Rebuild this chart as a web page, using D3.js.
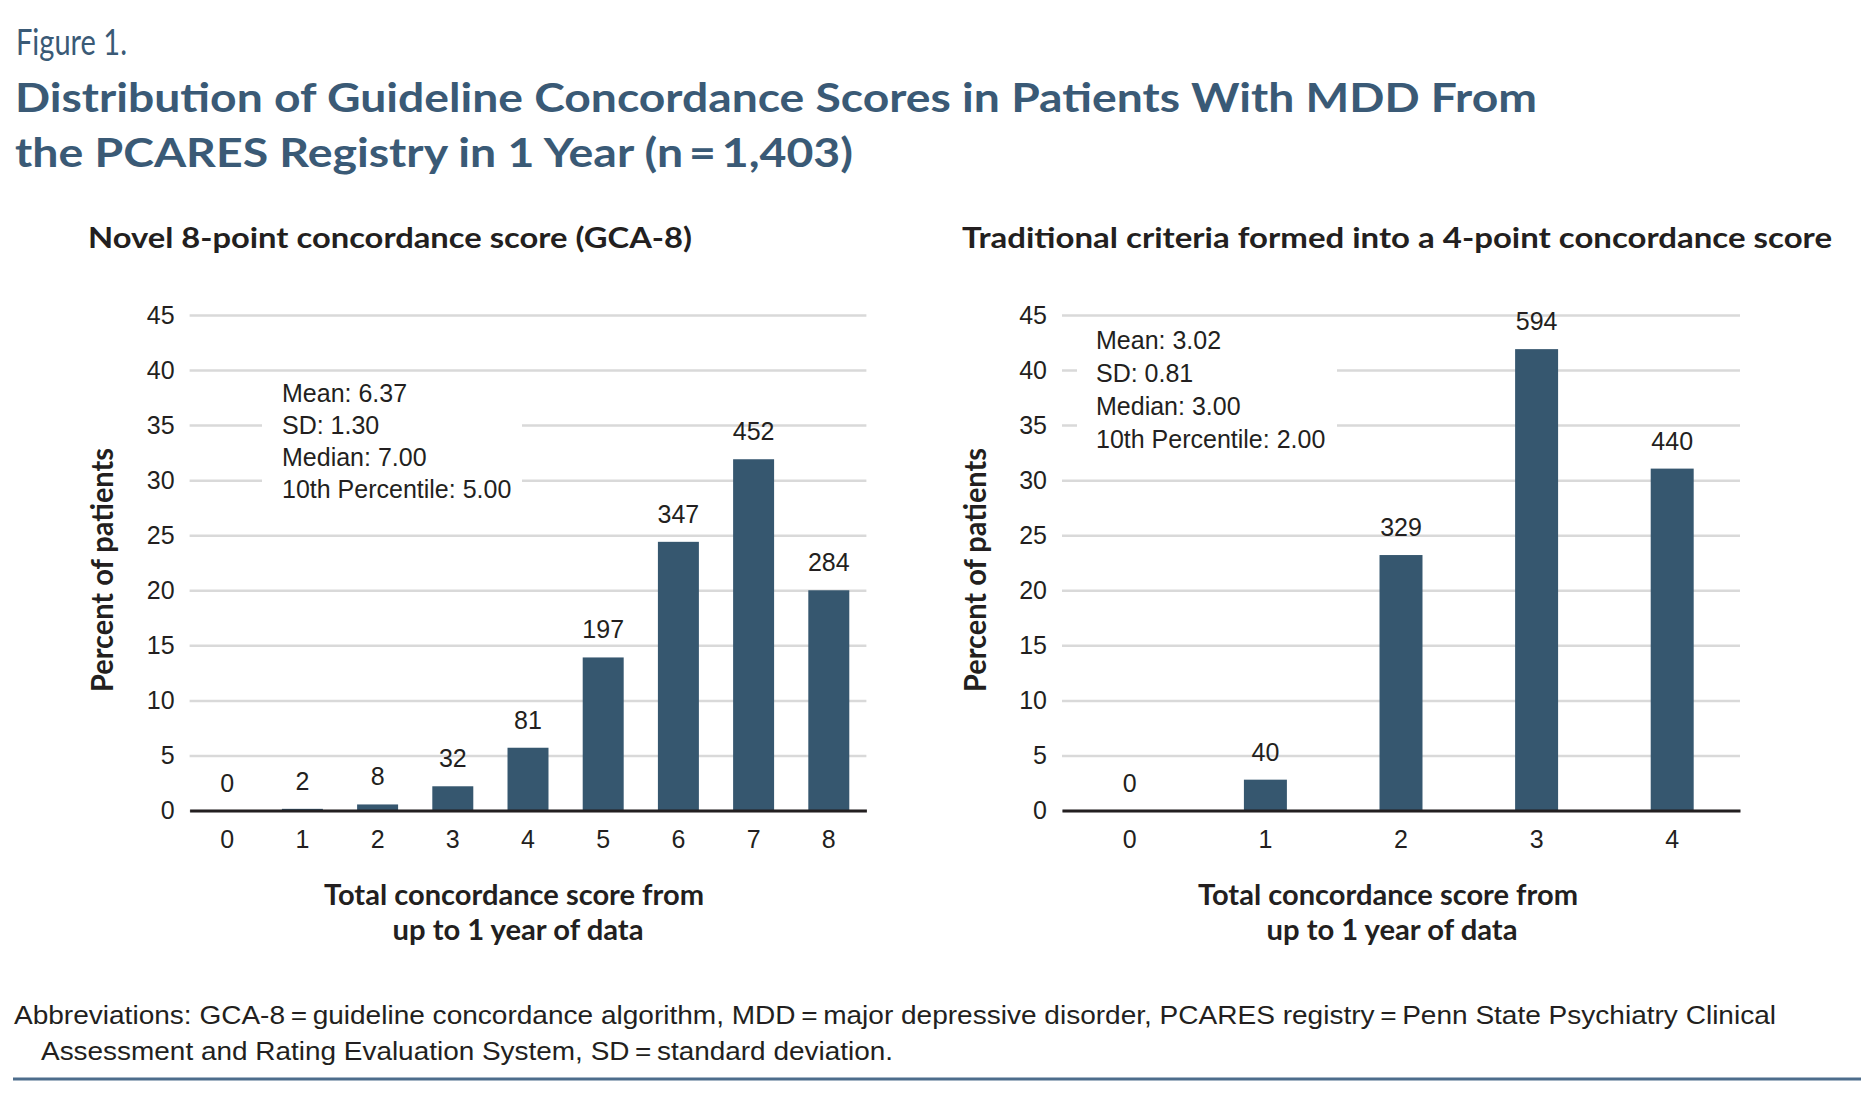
<!DOCTYPE html>
<html>
<head>
<meta charset="utf-8">
<script src="https://cdn.jsdelivr.net/npm/d3@7"></script>
<style>
  body { margin: 0; background: #fff; }
  text { fill: #231f20; font-family: "Liberation Sans", Arial, sans-serif; }
  .gridline { stroke: #d9d9d9; stroke-width: 2.5; }
  .heading { fill: #3a5a76; font-family: Lato, "Liberation Sans", sans-serif; }
  .bold { font-family: Lato, "Liberation Sans", sans-serif; font-weight: 700; }
</style>
</head>
<body>
<svg id="chart"></svg>
<script>
// data
var yTicks = [0, 5, 10, 15, 20, 25, 30, 35, 40, 45];

var gcaScores = ["0", "1", "2", "3", "4", "5", "6", "7", "8"];
var gcaPercent = [0, 0.15, 0.55, 2.2, 5.7, 13.9, 24.4, 31.9, 20.0];
var gcaCounts = [0, 2, 8, 32, 81, 197, 347, 452, 284];
var gcaStats = ["Mean: 6.37", "SD: 1.30", "Median: 7.00", "10th Percentile: 5.00"];

var tradScores = ["0", "1", "2", "3", "4"];
var tradPercent = [0, 2.8, 23.2, 41.9, 31.05];
var tradCounts = [0, 40, 329, 594, 440];
var tradStats = ["Mean: 3.02", "SD: 0.81", "Median: 3.00", "10th Percentile: 2.00"];

var canvas_width = 1871;
var canvas_height = 1103;
var barColor = "#36576f";

var svg = d3
  .select("#chart")
  .attr("width", canvas_width)
  .attr("height", canvas_height);

svg.append("rect")
  .attr("width", canvas_width)
  .attr("height", canvas_height)
  .attr("fill", "#fff");

//////////// HEADINGS ////////////
svg.append("text")
  .attr("class", "heading")
  .attr("x", 16)
  .attr("y", 55)
  .attr("textLength", 111)
  .attr("lengthAdjust", "spacingAndGlyphs")
  .style("font-size", "37px")
  .text("Figure 1.");

svg.append("text")
  .attr("class", "heading")
  .attr("x", 15)
  .attr("y", 112)
  .attr("textLength", 1522)
  .attr("lengthAdjust", "spacingAndGlyphs")
  .style("font-size", "40px")
  .style("font-weight", 700)
  .text("Distribution of Guideline Concordance Scores in Patients With MDD From");

svg.append("text")
  .attr("class", "heading")
  .attr("x", 15)
  .attr("y", 167)
  .attr("textLength", 838)
  .attr("lengthAdjust", "spacingAndGlyphs")
  .style("font-size", "40px")
  .style("font-weight", 700)
  .text("the PCARES Registry in 1 Year (n\u2009=\u20091,403)");

//////////// PANELS ////////////
function drawPanel(cfg) {
  var xScale = d3
    .scaleBand()
    .domain(cfg.categories)
    .range([cfg.x0, cfg.x1])
    .paddingInner(cfg.pad)
    .paddingOuter(cfg.pad / 2);

  var yScale = d3.scaleLinear().domain([0, 45]).range([810.5, 315]);

  var g = svg.append("g");

  // subtitle
  g.append("text")
    .attr("class", "bold")
    .attr("x", cfg.subX)
    .attr("y", 248)
    .attr("textLength", cfg.subLen)
    .attr("lengthAdjust", "spacingAndGlyphs")
    .style("font-size", "29px")
    .text(cfg.subtitle);

  // y axis with gridlines
  var yAxis = d3
    .axisLeft(yScale)
    .tickValues(yTicks)
    .tickSize(-(cfg.x1 - cfg.x0))
    .tickPadding(15);

  var yg = g.append("g")
    .attr("transform", "translate(" + cfg.x0 + ",0)")
    .call(yAxis);
  yg.select(".domain").remove();
  yg.selectAll(".tick line").attr("class", "gridline");
  yg.selectAll(".tick text")
    .style("font-size", "25px")
    .style("font-family", "'Liberation Sans', Arial, sans-serif")
    .attr("fill", "#231f20");

  // white box behind the summary stats
  var statsBottom = cfg.statsY + (cfg.stats.length - 1) * cfg.statsStep;
  g.append("rect")
    .attr("x", cfg.maskX0)
    .attr("y", cfg.statsY - 28)
    .attr("width", cfg.maskX1 - cfg.maskX0)
    .attr("height", statsBottom + 14 - (cfg.statsY - 28))
    .attr("fill", "#fff");

  g.selectAll(".stat")
    .data(cfg.stats)
    .enter()
    .append("text")
    .attr("x", cfg.statsX)
    .attr("y", function (d, i) {
      return cfg.statsY + i * cfg.statsStep;
    })
    .style("font-size", "25px")
    .text(function (d) {
      return d;
    });

  // bars
  g.selectAll(".bar")
    .data(cfg.values)
    .enter()
    .append("rect")
    .attr("x", function (d, i) {
      return xScale(cfg.categories[i]);
    })
    .attr("y", function (d) {
      return yScale(d);
    })
    .attr("width", xScale.bandwidth())
    .attr("height", function (d) {
      return yScale(0) - yScale(d);
    })
    .attr("fill", barColor);

  // count labels
  g.selectAll(".count")
    .data(cfg.counts)
    .enter()
    .append("text")
    .attr("x", function (d, i) {
      return xScale(cfg.categories[i]) + xScale.bandwidth() / 2;
    })
    .attr("y", function (d, i) {
      return yScale(cfg.values[i]) - 19;
    })
    .attr("text-anchor", "middle")
    .style("font-size", "25px")
    .text(function (d) {
      return d;
    });

  // x axis
  var xAxis = d3.axisBottom(xScale).tickSize(0).tickPadding(20);
  var xg = g.append("g")
    .attr("transform", "translate(0," + yScale(0) + ")")
    .call(xAxis);
  xg.select(".domain")
    .attr("stroke", "#231f20")
    .attr("stroke-width", 3);
  xg.selectAll(".tick text")
    .style("font-size", "25px")
    .style("font-family", "'Liberation Sans', Arial, sans-serif")
    .attr("fill", "#231f20");

  // x axis title
  g.append("text")
    .attr("class", "bold")
    .attr("x", cfg.xTitleX)
    .attr("y", 905)
    .attr("text-anchor", "middle")
    .attr("textLength", 380)
    .attr("lengthAdjust", "spacingAndGlyphs")
    .style("font-size", "28px")
    .text("Total concordance score from");
  g.append("text")
    .attr("class", "bold")
    .attr("x", cfg.xTitleX + 4)
    .attr("y", 940)
    .attr("text-anchor", "middle")
    .attr("textLength", 251)
    .attr("lengthAdjust", "spacingAndGlyphs")
    .style("font-size", "28px")
    .text("up to 1 year of data");

  // y axis title
  g.append("text")
    .attr("class", "bold")
    .attr("transform", "translate(" + cfg.yTitleX + ",570) rotate(-90)")
    .attr("text-anchor", "middle")
    .attr("textLength", 244)
    .attr("lengthAdjust", "spacingAndGlyphs")
    .style("font-size", "30px")
    .text("Percent of patients");
}

drawPanel({
  categories: gcaScores,
  values: gcaPercent,
  counts: gcaCounts,
  stats: gcaStats,
  x0: 189.6,
  x1: 866.4,
  pad: 0.455,
  subtitle: "Novel 8-point concordance score (GCA-8)",
  subX: 88,
  subLen: 604,
  statsX: 282,
  statsY: 402,
  statsStep: 32,
  maskX0: 262,
  maskX1: 522,
  xTitleX: 514,
  yTitleX: 113,
});

drawPanel({
  categories: tradScores,
  values: tradPercent,
  counts: tradCounts,
  stats: tradStats,
  x0: 1062,
  x1: 1740,
  pad: 0.683,
  subtitle: "Traditional criteria formed into a 4-point concordance score",
  subX: 962,
  subLen: 870,
  statsX: 1096,
  statsY: 349,
  statsStep: 33,
  maskX0: 1077,
  maskX1: 1337,
  xTitleX: 1388,
  yTitleX: 986,
});

//////////// FOOTNOTE ////////////
svg.append("text")
  .attr("x", 14)
  .attr("y", 1024)
  .attr("textLength", 1762)
  .attr("lengthAdjust", "spacingAndGlyphs")
  .style("font-size", "26px")
  .text("Abbreviations: GCA-8\u2009=\u2009guideline concordance algorithm, MDD\u2009=\u2009major depressive disorder, PCARES registry\u2009=\u2009Penn State Psychiatry Clinical");

svg.append("text")
  .attr("x", 41)
  .attr("y", 1060)
  .attr("textLength", 852)
  .attr("lengthAdjust", "spacingAndGlyphs")
  .style("font-size", "26px")
  .text("Assessment and Rating Evaluation System, SD\u2009=\u2009standard deviation.");

svg.append("line")
  .attr("x1", 13)
  .attr("x2", 1861)
  .attr("y1", 1079)
  .attr("y2", 1079)
  .attr("stroke", "#4d6d8c")
  .attr("stroke-width", 3);
</script>
</body>
</html>
